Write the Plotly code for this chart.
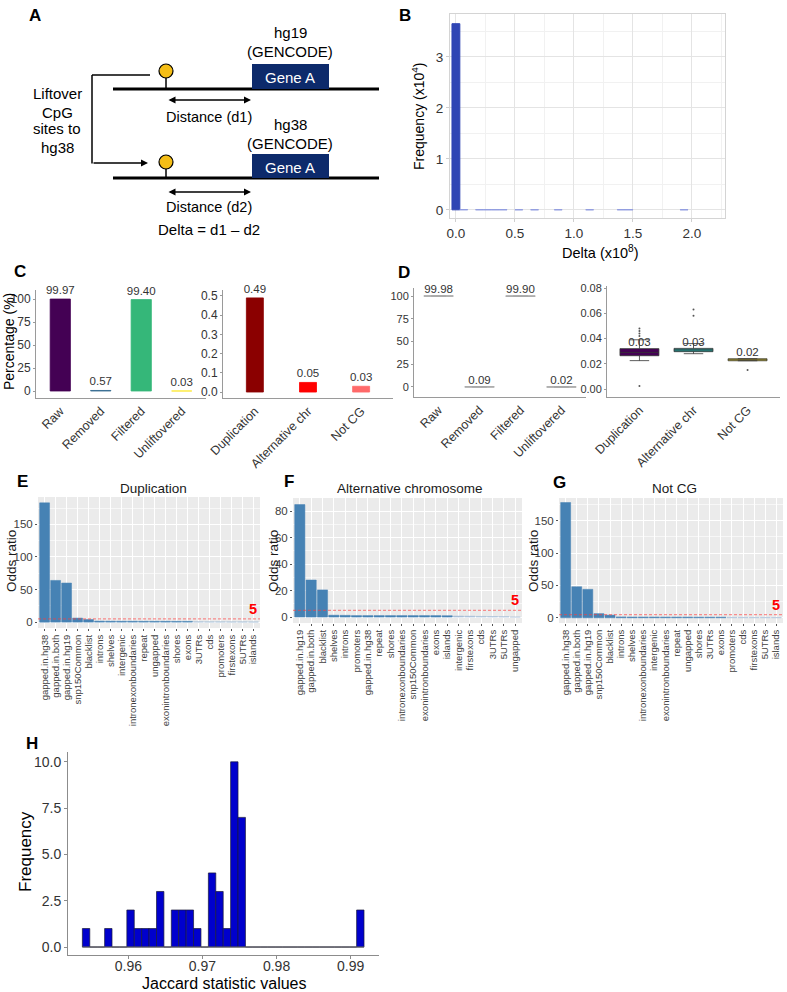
import plotly.graph_objects as go

W, H = 787, 992
FONT = "Liberation Sans, Arial, Helvetica, sans-serif"

# ---------------- data ----------------
# B: histogram of Delta (x1e8), frequencies in units of 1e4
delta_bin_centers = [0.0, 0.0667, 0.2, 0.2667, 0.3333, 0.4, 0.5333, 0.6667, 0.8667, 1.1333, 1.4, 1.4667, 1.9333]
delta_freq_1e4 = [3.65, 0.004, 0.003, 0.003, 0.003, 0.003, 0.002, 0.002, 0.002, 0.002, 0.003, 0.003, 0.002]
delta_bin_width = 0.0667
delta_ticks = [0.0, 0.5, 1.0, 1.5, 2.0]
freq_ticks = [0, 1, 2, 3]

# C
c_left_cats = ["Raw", "Removed", "Filtered", "Unliftovered"]
c_left_vals = [99.97, 0.57, 99.40, 0.03]
c_left_colors = ["#440154", "#31688E", "#35B779", "#FDE725"]
c_right_cats = ["Duplication", "Alternative chr", "Not CG"]
c_right_vals = [0.49, 0.05, 0.03]
c_right_colors = ["#8B0000", "#FF0000", "#FF6A6A"]

# D
d_left_cats = ["Raw", "Removed", "Filtered", "Unliftovered"]
d_left_vals = [99.98, 0.09, 99.90, 0.02]
d_right_cats = ["Duplication", "Alternative chr", "Not CG"]
d_right_q1 = [0.0264, 0.0296, 0.0224]
d_right_median = [0.0290, 0.0310, 0.0232]
d_right_q3 = [0.0320, 0.0322, 0.0240]
d_right_low = [0.0225, 0.0280, 0.0224]
d_right_high = [0.0390, 0.0360, 0.0240]
d_right_mean = [0.029, 0.031, 0.023]
d_right_colors = ["#440154", "#21908C", "#FDE725"]
d_out_cats = ["Duplication"] * 5 + ["Alternative chr"] * 2 + ["Not CG"]
d_out_vals = [0.048, 0.046, 0.044, 0.042, 0.0024, 0.063, 0.058, 0.015]

# E, F, G odds ratios
threshold = 5
e_cats = ["gapped.in.hg38", "gapped.in.both", "gapped.in.hg19", "snp150Common", "blacklist", "introns",
          "shelves", "intergenic", "intronexonboundaries", "repeat", "ungapped", "exonintronboundaries",
          "shores", "exons", "3UTRs", "cds", "promoters", "firstexons", "5UTRs", "islands"]
e_vals = [183, 64, 60, 6.2, 4.0, 1.6, 1.5, 1.4, 1.4, 1.3, 1.3, 1.3, 1.2, 1.2, 0.7, 0.6, 0.6, 0.5, 0.5, 0.4]
f_cats = ["gapped.in.hg19", "gapped.in.both", "blacklist", "shelves", "introns", "promoters", "gapped.in.hg38",
          "repeat", "shores", "intronexonboundaries", "snp150Common", "exonintronboundaries", "exons", "islands",
          "intergenic", "firstexons", "cds", "3UTRs", "5UTRs", "ungapped"]
f_vals = [85, 28, 20.5, 1.4, 1.3, 1.1, 1.1, 1.1, 1.1, 1.1, 1.1, 1.1, 1.1, 1.0, 0.8, 0.7, 0.5, 0.4, 0.3, 0]
g_cats = ["gapped.in.hg38", "gapped.in.both", "gapped.in.hg19", "snp150Common", "blacklist", "introns",
          "shelves", "intronexonboundaries", "intergenic", "exonintronboundaries", "repeat", "ungapped",
          "shores", "3UTRs", "exons", "promoters", "cds", "firstexons", "5UTRs", "islands"]
g_vals = [178, 48, 44, 6.5, 4.2, 1.4, 1.3, 1.3, 1.3, 1.2, 1.2, 1.2, 1.1, 1.1, 1.1, 0.8, 0.7, 0.6, 0.6, 0.5]

# H: histogram of Jaccard statistic values
jac_bin_centers = [0.9543, 0.9553, 0.9563, 0.9573, 0.9583, 0.9593, 0.9603, 0.9613, 0.9623, 0.9633,
                   0.9643, 0.9653, 0.9663, 0.9673, 0.9683, 0.9693, 0.9703, 0.9713, 0.9723, 0.9733,
                   0.9743, 0.9753, 0.9763, 0.9773, 0.9783, 0.9793, 0.9803, 0.9813, 0.9823, 0.9833,
                   0.9843, 0.9853, 0.9863, 0.9873, 0.9883, 0.9893, 0.9903, 0.9913]
jac_counts = [1, 0, 0, 1, 0, 0, 2, 1, 1, 1,
              3, 0, 2, 2, 2, 1, 0, 4, 3, 1,
              10, 7, 0, 0, 0, 0, 0, 0, 0, 0,
              0, 0, 0, 0, 0, 0, 0, 2]
jac_bin_width = 0.001
jac_xticks = [0.96, 0.97, 0.98, 0.99]
jac_yticks = [0, 2.5, 5.0, 7.5, 10.0]


# ---------------- helpers ----------------
def X(px):
    return px / W


def Y(py):
    return 1 - py / H


def dx(a, b):
    return [a / W, b / W]


def dy(top, bottom):
    return [1 - bottom / H, 1 - top / H]


TICKC = "#333333"
shapes = []
ann = []


def text(x, y, s, size=14, color="#000000", bold=False, angle=0, xanchor="center", yanchor="middle"):
    if bold:
        s = f"<b>{s}</b>"
    ann.append(dict(x=X(x), y=Y(y), xref="paper", yref="paper", text=s, showarrow=False,
                    font=dict(family=FONT, size=size, color=color), textangle=angle,
                    xanchor=xanchor, yanchor=yanchor))


def pline(x0, y0, x1, y1, width=1.5, color="black"):
    shapes.append(dict(type="line", xref="paper", yref="paper", x0=X(x0), y0=Y(y0), x1=X(x1), y1=Y(y1),
                       line=dict(color=color, width=width)))


def arrow(xh, yh, xt, yt, both=False):
    ann.append(dict(x=X(xh), y=Y(yh), xref="paper", yref="paper", ax=xt - xh, ay=yt - yh,
                    axref="pixel", ayref="pixel", text="", showarrow=True, arrowhead=2,
                    arrowside="end+start" if both else "end", arrowsize=1, arrowwidth=1.4,
                    arrowcolor="black", standoff=0, startstandoff=0))


fig = go.Figure()

# ---------------- Panel A (schematic) ----------------
text(35, 15, "A", size=17, bold=True)
NAVY = "#0d2a6b"
for (ytop, ybot, ycirc, label, yl1, yl2, dlab, yarr, ydl) in [
    (64, 89, 71, "hg19", 33, 52, "Distance (d1)", 100, 117),
    (154, 178, 162, "hg38", 125, 143, "Distance (d2)", 192, 207),
]:
    pline(113, ybot, 379, ybot, width=3)
    shapes.append(dict(type="rect", xref="paper", yref="paper", x0=X(252), x1=X(329), y0=Y(ybot), y1=Y(ytop),
                       fillcolor=NAVY, line=dict(width=0)))
    text(290, (ytop + ybot) / 2 + 1, "Gene A", size=15, color="white")
    pline(166, ycirc, 166, ybot, width=1.5)
    shapes.append(dict(type="circle", xref="paper", yref="paper", x0=X(159), x1=X(173),
                       y0=Y(ycirc + 7), y1=Y(ycirc - 7), fillcolor="#F5BE16",
                       line=dict(color="black", width=1.2)))
    text(290, yl1, label, size=15)
    text(290, yl2, "(GENCODE)", size=15)
    arrow(251, yarr, 167, yarr, both=True)
    text(209, ydl, dlab, size=14.5)

pline(150, 75, 92, 75, width=1.5)
pline(92, 75, 92, 163.5, width=1.5)
arrow(148, 163, 92, 163)
for yy, s in [(94, "Liftover"), (112, "CpG"), (129, "sites to"), (147, "hg38")]:
    text(57, yy, s, size=15)
text(209, 229, "Delta = d1 \u2013 d2", size=15)

# ---------------- Panel B ----------------
text(405, 15, "B", size=17, bold=True)
b_colors = ["#2f45b4" if v > 1 else "#8e9ae0" for v in delta_freq_1e4]
fig.add_trace(go.Bar(x=delta_bin_centers, y=delta_freq_1e4, width=delta_bin_width,
                     marker=dict(color=b_colors, line=dict(color=b_colors, width=1)),
                     xaxis="x", yaxis="y", showlegend=False))
text(418, 116, "Frequency (x10<sup>4</sup>)", size=14, angle=-90)
text(600, 252, "Delta (x10<sup>8</sup>)", size=14.5)

# ---------------- Panel C ----------------
text(20, 271, "C", size=17, bold=True)
fig.add_trace(go.Bar(x=c_left_cats, y=c_left_vals, width=0.5,
                     marker=dict(color=c_left_colors, line=dict(color=c_left_colors, width=0.8)),
                     text=[f"{v:.2f}" for v in c_left_vals], textposition="outside", constraintext="none",
                     textfont=dict(family=FONT, size=11.5, color="#333333"), cliponaxis=False,
                     xaxis="x2", yaxis="y2", showlegend=False))
fig.add_trace(go.Bar(x=c_right_cats, y=c_right_vals, width=0.32,
                     marker=dict(color=c_right_colors, line=dict(color=c_right_colors, width=0.8)),
                     text=[f"{v:.2f}" for v in c_right_vals], textposition="outside", constraintext="none",
                     textfont=dict(family=FONT, size=11.5, color="#333333"), cliponaxis=False,
                     xaxis="x3", yaxis="y3", showlegend=False))
text(9, 342, "Percentage (%)", size=14, angle=-90)

# ---------------- Panel D ----------------
text(404, 273, "D", size=17, bold=True)
fig.add_trace(go.Box(x=d_left_cats, q1=[v - 0.01 for v in d_left_vals], median=d_left_vals,
                     q3=[v + 0.01 for v in d_left_vals], lowerfence=d_left_vals, upperfence=d_left_vals,
                     width=0.72, fillcolor="#e0e0e0", line=dict(color="#a8a8a8", width=1),
                     boxpoints=False, xaxis="x4", yaxis="y4", showlegend=False, hoverinfo="skip"))
fig.add_trace(go.Scatter(x=d_left_cats, y=d_left_vals, mode="text", text=[f"{v:.2f}" for v in d_left_vals],
                         textposition="top center", textfont=dict(family=FONT, size=11.5, color="#333333"),
                         cliponaxis=False, xaxis="x4", yaxis="y4", showlegend=False))
for i, cat in enumerate(d_right_cats):
    fig.add_trace(go.Box(x=[cat], q1=[d_right_q1[i]], median=[d_right_median[i]], q3=[d_right_q3[i]],
                         lowerfence=[d_right_low[i]], upperfence=[d_right_high[i]], width=0.72,
                         fillcolor=d_right_colors[i], line=dict(color="#333333", width=0.8),
                         boxpoints=False, xaxis="x5", yaxis="y5", showlegend=False, hoverinfo="skip"))
fig.add_trace(go.Scatter(x=d_out_cats, y=d_out_vals, mode="markers",
                         marker=dict(size=2, color="#555555"), xaxis="x5", yaxis="y5", showlegend=False))
fig.add_trace(go.Scatter(x=d_right_cats, y=d_right_q3, mode="text", text=[f"{v:.2f}" for v in d_right_mean],
                         textposition="top center", textfont=dict(family=FONT, size=11.5, color="#333333"),
                         cliponaxis=False, xaxis="x5", yaxis="y5", showlegend=False))


# ---------------- Panels E, F, G ----------------
def bar_colors(vals):
    return ["#4682B4" if v >= 1 else "#a9c0d9" for v in vals]


for (cats, vals, xa, ya) in [(e_cats, e_vals, "x6", "y6"), (f_cats, f_vals, "x7", "y7"),
                             (g_cats, g_vals, "x8", "y8")]:
    cols = bar_colors(vals)
    fig.add_trace(go.Bar(x=cats, y=vals, width=0.9, marker=dict(color=cols, line=dict(color=cols, width=0.5)),
                         xaxis=xa, yaxis=ya, showlegend=False))
    n = xa[1:]
    shapes.append(dict(type="rect", xref=f"x{n} domain", yref=f"y{n} domain", x0=0, x1=1, y0=0, y1=1,
                       fillcolor="#EBEBEB", line=dict(width=0), layer="below"))
    shapes.append(dict(type="line", xref=f"x{n} domain", yref=f"y{n}", x0=0, x1=1, y0=threshold,
                       y1=threshold, line=dict(color="rgba(255,60,60,0.55)", width=1.2, dash="3px,2px")))
    ann.append(dict(x=0.995, y=threshold, xref=f"x{n} domain", yref=f"y{n}", text=f"<b>{threshold}</b>",
                    showarrow=False, xanchor="right", yanchor="bottom",
                    font=dict(family=FONT, size=14.5, color="#FF0000")))

text(22, 482, "E", size=17, bold=True)
text(289, 481, "F", size=17, bold=True)
text(559, 483, "G", size=17, bold=True)
text(153, 488, "Duplication", size=13.5, color="#1a1a1a")
text(410, 488, "Alternative chromosome", size=13.5, color="#1a1a1a")
text(674, 488, "Not CG", size=13.5, color="#1a1a1a")
text(11, 561, "Odds ratio", size=13.5, angle=-90, color="#1a1a1a")
text(273, 561, "Odds ratio", size=13.5, angle=-90, color="#1a1a1a")
text(533, 561, "Odds ratio", size=13.5, angle=-90, color="#1a1a1a")

# ---------------- Panel H ----------------
text(32, 743, "H", size=17, bold=True)
fig.add_trace(go.Scatter(x=[jac_bin_centers[0] - jac_bin_width / 2, jac_bin_centers[-1] + jac_bin_width / 2],
                         y=[0, 0], mode="lines", line=dict(color="#6a6a6a", width=1),
                         xaxis="x9", yaxis="y9", showlegend=False, hoverinfo="skip"))
fig.add_trace(go.Bar(x=jac_bin_centers, y=jac_counts, width=jac_bin_width,
                     marker=dict(color="#0000CD", line=dict(color="#1a1a3a", width=0.7)),
                     xaxis="x9", yaxis="y9", showlegend=False))
text(25, 852, "Frequency", size=17, angle=-90)
text(225, 983, "Jaccard statistic values", size=16)


# ---------------- axes ----------------
def base_axis(**kw):
    d = dict(showgrid=False, zeroline=False, showline=False, ticks="", fixedrange=True, automargin=False,
             tickfont=dict(family=FONT, size=12, color=TICKC))
    d.update(kw)
    return d


AXC = "#9a9a9a"
XTF = dict(family=FONT, size=12.5, color=TICKC)
layout_axes = dict(
    xaxis=base_axis(domain=dx(450, 725), anchor="y", range=[-0.05, 2.28], tickvals=delta_ticks,
                    tickformat=".1f", showgrid=True, gridcolor="#e4e4e4", gridwidth=1,
                    minor=dict(dtick=0.25, tick0=0, showgrid=True, gridcolor="#f1f1f1", gridwidth=0.7),
                    showline=True, mirror=True, linecolor="#d4d4d4", linewidth=1,
                    ticks="outside", ticklen=3, tickcolor="#cfcfcf",
                    tickfont=dict(family=FONT, size=13.5, color=TICKC)),
    yaxis=base_axis(domain=dy(14, 218), anchor="x", range=[-0.16, 3.84], tickvals=freq_ticks,
                    showgrid=True, gridcolor="#e4e4e4", gridwidth=1,
                    minor=dict(dtick=0.5, tick0=0, showgrid=True, gridcolor="#f1f1f1", gridwidth=0.7),
                    showline=True, mirror=True, linecolor="#d4d4d4", linewidth=1,
                    ticks="outside", ticklen=3, tickcolor="#cfcfcf",
                    tickfont=dict(family=FONT, size=13.5, color=TICKC)),
    xaxis2=base_axis(domain=dx(36, 206), anchor="y2", range=[-0.6, 3.6], tickangle=-45,
                     showline=True, linecolor=AXC, tickfont=XTF),
    yaxis2=base_axis(domain=dy(290, 398), anchor="x2", range=[-7.6, 109.8], tickvals=[0, 25, 50, 75, 100],
                     showline=True, linecolor=AXC, ticks="outside", ticklen=2, tickcolor=AXC),
    xaxis3=base_axis(domain=dx(223, 393), anchor="y3", range=[-0.6, 2.6], tickangle=-45,
                     showline=True, linecolor=AXC, tickfont=XTF),
    yaxis3=base_axis(domain=dy(290, 398), anchor="x3", range=[-0.031, 0.531],
                     tickvals=[0, 0.1, 0.2, 0.3, 0.4, 0.5], tickformat=".1f",
                     showline=True, linecolor=AXC, ticks="outside", ticklen=2, tickcolor=AXC),
    xaxis4=base_axis(domain=dx(414, 586), anchor="y4", range=[-0.6, 3.6], tickangle=-45,
                     showline=True, linecolor=AXC, tickfont=XTF),
    yaxis4=base_axis(domain=dy(288, 397), anchor="x4", range=[-11, 108.8], tickvals=[0, 25, 50, 75, 100],
                     showline=True, linecolor=AXC, ticks="outside", ticklen=2, tickcolor=AXC,
                     tickfont=dict(family=FONT, size=11, color=TICKC)),
    xaxis5=base_axis(domain=dx(607, 780), anchor="y5", range=[-0.6, 2.6], tickangle=-45,
                     showline=True, linecolor=AXC, tickfont=XTF),
    yaxis5=base_axis(domain=dy(286, 397), anchor="x5", range=[-0.0063, 0.0816],
                     tickvals=[0, 0.02, 0.04, 0.06, 0.08], tickformat=".2f",
                     showline=True, linecolor=AXC, ticks="outside", ticklen=2, tickcolor=AXC,
                     tickfont=dict(family=FONT, size=11, color=TICKC)),
    xaxis9=base_axis(domain=dx(68, 379), anchor="y9", range=[0.95186, 0.99382], tickvals=jac_xticks,
                     tickformat=".2f", showline=True, linecolor="#8c8c8c", ticks="outside", ticklen=3,
                     tickcolor="#8c8c8c", ticklabelstandoff=-5,
                     tickfont=dict(family=FONT, size=14, color=TICKC)),
    yaxis9=base_axis(domain=dy(752, 955), anchor="x9", range=[-0.43, 10.53], tickvals=jac_yticks,
                     tickformat=".1f", showline=True, linecolor="#8c8c8c", ticks="outside", ticklen=3,
                     tickcolor="#8c8c8c", tickfont=dict(family=FONT, size=14, color=TICKC)),
)

for n, (xd, ydm, yr, ytv, ydt) in {
    6: (dx(38, 260), dy(497, 628), [-9, 192], [0, 50, 100, 150], 25),
    7: (dx(293, 522), dy(498, 623), [-4.5, 90], [0, 20, 40, 60, 80], 10),
    8: (dx(559, 783), dy(498, 623), [-8, 185], [0, 50, 100, 150], 25),
}.items():
    layout_axes[f"xaxis{n}"] = base_axis(domain=xd, anchor=f"y{n}", range=[-0.6, 19.6], tickangle=-90,
                                         tickmode="linear", tick0=0, dtick=1,
                                         showgrid=True, gridcolor="white", gridwidth=1,
                                         ticks="outside", ticklen=2, tickcolor="#555555",
                                         tickfont=dict(family=FONT, size=9.5, color="#404040"))
    layout_axes[f"yaxis{n}"] = base_axis(domain=ydm, anchor=f"x{n}", range=yr, tickvals=ytv,
                                         showgrid=True, gridcolor="white", gridwidth=1,
                                         minor=dict(dtick=ydt, tick0=0, showgrid=True, gridcolor="#f7f7f7",
                                                    gridwidth=0.6),
                                         ticks="outside", ticklen=2, tickcolor="#555555",
                                         tickfont=dict(family=FONT, size=11.5, color="#404040"))

fig.update_layout(template="none", width=W, height=H, margin=dict(l=0, r=0, t=0, b=0, autoexpand=False),
                  paper_bgcolor="white", plot_bgcolor="white", showlegend=False, font=dict(family=FONT),
                  shapes=shapes, annotations=ann, **layout_axes)

fig.write_html("out.html", config={"displayModeBar": False},
               post_script="document.body.style.margin='0px';")
